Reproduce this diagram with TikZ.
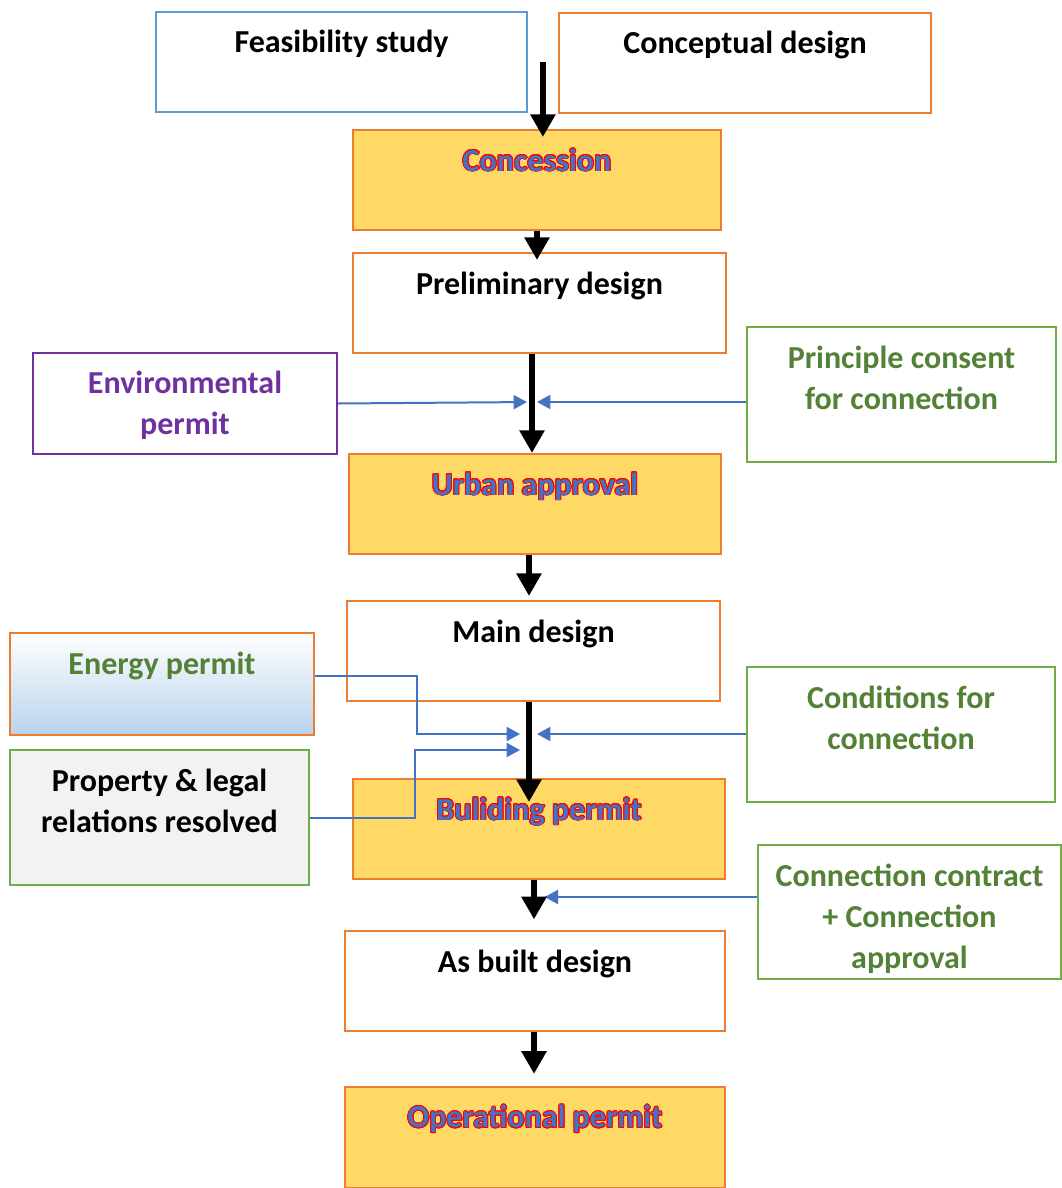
\documentclass[tikz,border=0pt]{standalone}
\usepackage{fontspec}
\setmainfont{Carlito}
\usepackage{contour}
\usetikzlibrary{arrows.meta,positioning,calc}
\definecolor{bdorange}{HTML}{ED7D31}
\definecolor{bdblue}{HTML}{5B9BD5}
\definecolor{bdgreen}{HTML}{70AD47}
\definecolor{txgreen}{HTML}{538135}
\definecolor{bdpurple}{HTML}{7030A0}
\definecolor{stagefill}{HTML}{FFD966}
\definecolor{linkblue}{HTML}{4472C4}
\definecolor{greyfill}{HTML}{F2F2F2}
\definecolor{energyblue}{HTML}{B9D3EC}
\contourlength{0.7pt}
\newcommand{\stagename}[1]{\contour{red}{\textcolor{linkblue}{#1}}}
\tikzset{
  flow/box/.style={draw, line width=1.5pt, minimum height=75pt, inner sep=0pt},
  flow/design/.style={flow/box, draw=bdorange, fill=white},
  flow/stage/.style={flow/box, draw=bdorange, fill=stagefill},
  flow/cond/.style={flow/box, draw=bdgreen, fill=white, minimum height=101pt},
  flow/text/.style={anchor=base, yshift=-31.5pt, inner sep=0pt, align=center,
    font=\fontsize{24pt}{30.75pt}\selectfont\bfseries},
  flow/lines/.style={yshift=-#1*30.75pt+30.75pt}, % base sits on the last line
  flow/main/.style={line width=5pt, -{Triangle[length=17pt,width=18pt]}},
  flow/link/.style={draw=linkblue, line width=1.5pt, -{Triangle[length=10pt,width=10.5pt]}}
}

\begin{document}
\begin{tikzpicture}[x=0.75pt, y=-0.75pt]
  \useasboundingbox (0,0) rectangle (1061,1188);

  \node[flow/box, draw=bdblue, minimum width=278pt, label={[flow/text]north:Feasibility study}] (feas) at (341.5,62) {};
  \node[flow/design, minimum width=279pt, label={[flow/text]north:Conceptual design}] (concept) at (745,63) {};
  \node[flow/stage, minimum width=276pt, label={[flow/text]north:\stagename{Concession}}] (conc) at (537,180) {};
  \node[flow/design, minimum width=280pt, label={[flow/text]north:Preliminary design}] (prelim) at (539.5,303) {};
  \node[flow/box, draw=bdpurple, minimum width=228pt, minimum height=76pt,
        label={[flow/text, flow/lines=2, text=bdpurple]north:Environmental\\permit}] (env) at (185,403.5) {};
  \node[flow/cond, minimum width=232pt, label={[flow/text, flow/lines=2, text=txgreen]north:Principle consent\\for connection}] (princ) at (901.5,394.5) {};
  \node[flow/stage, minimum width=279pt, label={[flow/text]north:\stagename{Urban approval}}] (urban) at (535,504) {};
  \node[flow/design, minimum width=280pt, label={[flow/text]north:Main design}] (main) at (533.5,651) {};
  \node[flow/box, draw=bdorange, top color=white, bottom color=energyblue, minimum width=228pt, minimum height=76.5pt,
        label={[flow/text, text=txgreen]north:Energy permit}] (energy) at (162,684) {};
  \node[flow/cond, minimum width=231pt, label={[flow/text, flow/lines=2, text=txgreen]north:Conditions for\\connection}] (cond) at (901,734.5) {};
  \node[flow/cond, fill=greyfill, minimum width=224pt, label={[flow/text, flow/lines=2]north:Property \& legal\\relations resolved}] (prop) at (159.5,817.5) {};
  \node[flow/stage, minimum width=279pt, label={[flow/text]north:\stagename{Buliding permit}}] (build) at (539,829) {};
  \node[flow/cond, minimum width=227pt, minimum height=100.5pt,
        label={[flow/text, flow/lines=3, text=txgreen]north:Connection contract\\+ Connection\\approval}] (contract) at (909.5,912) {};
  \node[flow/design, minimum width=285pt, label={[flow/text]north:As built design}] (asbuilt) at (535,981) {};
  \node[flow/stage, minimum width=285pt, minimum height=76pt, label={[flow/text]north:\stagename{Operational permit}}] (oper) at (535,1137.5) {};

  \coordinate (split) at ($(feas.east)!0.5!(concept.west)$);
  \coordinate (j1) at (532,402);
  \coordinate (j2) at (529,734);
  \coordinate (j2b) at (529,750);
  \coordinate (j3) at (534,897);
  \coordinate (bend1) at (417,734);
  \coordinate (bend2) at (415,750);

  % inputs
  \draw[flow/link, shorten >=3.75pt] (env.east) -- (j1);
  \draw[flow/link, shorten >=3.75pt] (princ.west |- j1) -- (j1);
  \draw[flow/link, shorten >=6.75pt] ([yshift=6pt]energy.east) -| (bend1) -- (j2);
  \draw[flow/link, shorten >=6.75pt] (prop.east) -| (bend2) -- (j2b);
  \draw[flow/link, shorten >=6pt] (cond.west |- j2) -- (j2);
  \draw[flow/link, shorten >=8pt] (contract.west |- j3) -- (j3);

  % main flow
  \draw[flow/main, shorten >=-6pt] (split) -- (split |- conc.north);
  \draw[flow/main, shorten >=-6pt] (conc.south) -- (conc.south |- prelim.north);
  \draw[flow/main] (prelim.south -| j1) -- (urban.north -| j1);
  \draw[flow/main, shorten >=3pt] (urban.south -| j2) -- (main.north -| j2);
  \draw[flow/main, shorten >=-18pt] (main.south -| j2) -- (build.north -| j2);
  \draw[flow/main, shorten >=8pt] (build.south -| j3) -- (asbuilt.north -| j3);
  \draw[flow/main, shorten >=9pt] (asbuilt.south -| j3) -- (oper.north -| j3);
\end{tikzpicture}
\end{document}
